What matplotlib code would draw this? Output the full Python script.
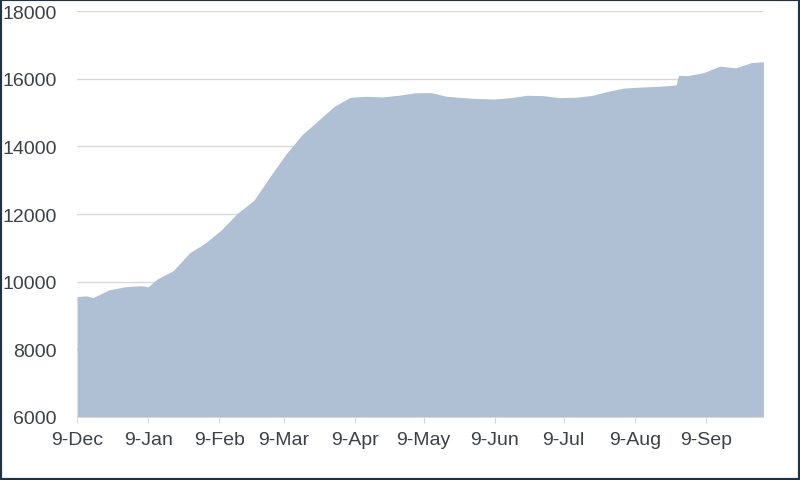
import matplotlib
matplotlib.use("Agg")
import matplotlib.pyplot as plt
from matplotlib.patches import Rectangle
import datetime as dt

# ---- data ----
dates = ["2012-12-09", "2012-12-13", "2012-12-16", "2012-12-23", "2012-12-30", "2013-01-06",
         "2013-01-09", "2013-01-13", "2013-01-20", "2013-01-27", "2013-02-03", "2013-02-10",
         "2013-02-17", "2013-02-24", "2013-03-03", "2013-03-10", "2013-03-17",
         "2013-03-24", "2013-03-31", "2013-04-07", "2013-04-14", "2013-04-21",
         "2013-04-28", "2013-05-05", "2013-05-12", "2013-05-19", "2013-05-26",
         "2013-06-02", "2013-06-09", "2013-06-16", "2013-06-23", "2013-06-30",
         "2013-07-07", "2013-07-14", "2013-07-21", "2013-07-28", "2013-08-04",
         "2013-08-11", "2013-08-18", "2013-08-25", "2013-08-27", "2013-08-28", "2013-09-01",
         "2013-09-08", "2013-09-15", "2013-09-22", "2013-09-29", "2013-10-04"]
values = [9560, 9580, 9530, 9760, 9850, 9880,
          9850, 10080, 10330, 10850, 11150, 11540,
          12030, 12400, 13100, 13770, 14340,
          14760, 15180, 15450, 15480, 15460,
          15510, 15580, 15590, 15480, 15440,
          15410, 15400, 15440, 15510, 15500,
          15440, 15450, 15500, 15620, 15720,
          15750, 15770, 15800, 15820, 16100, 16090,
          16180, 16370, 16320, 16480, 16500]

tick_dates = ["2012-12-09", "2013-01-09", "2013-02-09", "2013-03-09", "2013-04-09",
              "2013-05-09", "2013-06-09", "2013-07-09", "2013-08-09", "2013-09-09"]
tick_labels = ["9-Dec", "9-Jan", "9-Feb", "9-Mar", "9-Apr",
               "9-May", "9-Jun", "9-Jul", "9-Aug", "9-Sep"]
y_ticks = [6000, 8000, 10000, 12000, 14000, 16000, 18000]

# ---- plot ----
plt.rcParams['font.family'] = ['Liberation Sans', 'DejaVu Sans']

x = [dt.datetime.strptime(d, "%Y-%m-%d") for d in dates]
xt = [dt.datetime.strptime(d, "%Y-%m-%d") for d in tick_dates]

fig = plt.figure(figsize=(8.0, 4.81), dpi=100)
ax = fig.add_axes([0.09625, 0.131, 0.858, 0.844])

ax.fill_between(x, 6000, values, color="#AFBFD4", linewidth=0, zorder=2)

ax.set_ylim(6000, 18000)
ax.set_xlim(x[0], x[-1])
ax.set_yticks(y_ticks)
ax.set_yticklabels([str(v) for v in y_ticks])
ax.set_xticks(xt)
ax.set_xticklabels(tick_labels)

ax.grid(axis="y", color="#D9D9D9", linewidth=1, zorder=1)
ax.set_axisbelow(True)
for s in ["top", "right", "left"]:
    ax.spines[s].set_visible(False)
ax.spines["bottom"].set_color("#D9D9D9")
ax.spines["bottom"].set_zorder(3)

ax.tick_params(axis="y", length=0, pad=14.4, labelsize=14, labelcolor="#3C4148")
ax.tick_params(axis="x", length=4, color="#D9D9D9", pad=6, labelsize=14,
               labelcolor="#3C4148")

fig.patches.append(Rectangle((0, 0), 1, 1, transform=fig.transFigure,
                             fill=False, edgecolor="#1F3344", linewidth=3))

fig.savefig("out.png", dpi=100)
